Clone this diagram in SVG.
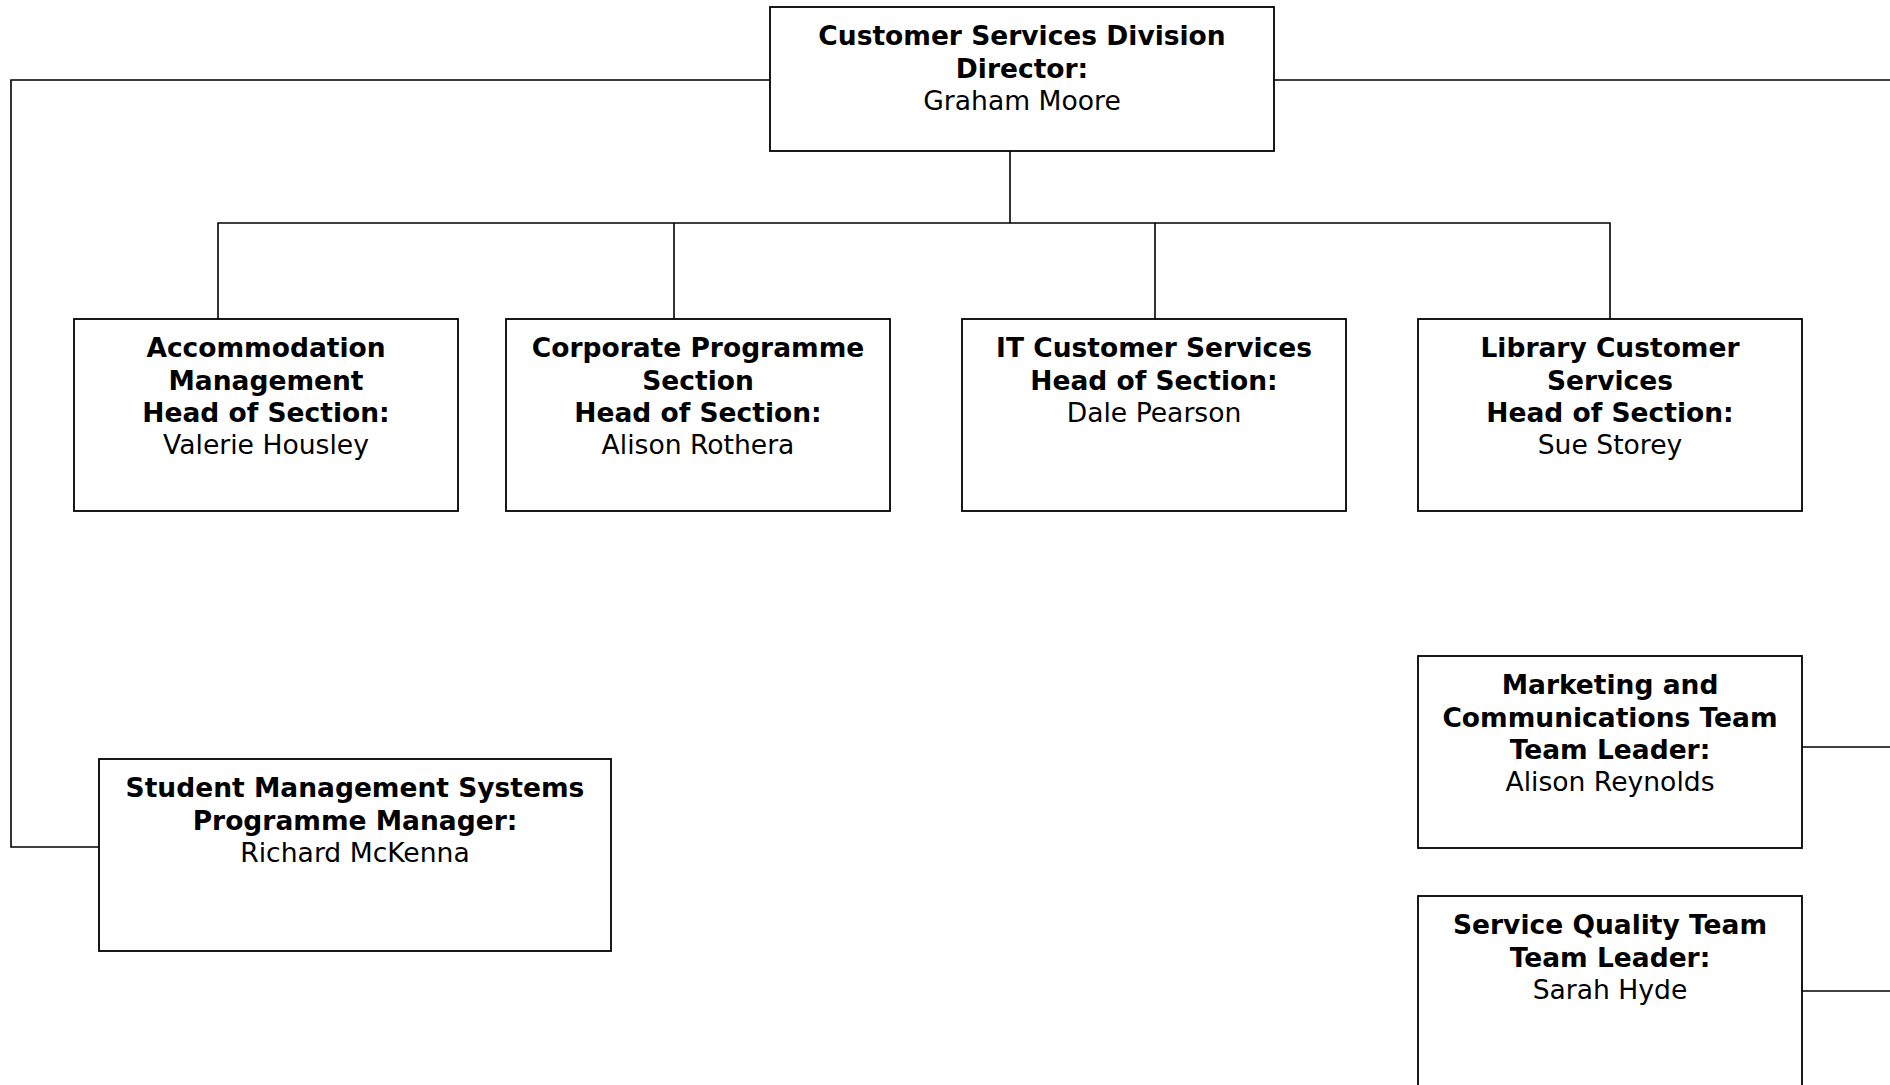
<svg xmlns="http://www.w3.org/2000/svg" width="1890" height="1085" viewBox="0 0 1890 1085">
<style>
.box{fill:#fff;stroke:#000;stroke-width:1.8}
.ln{fill:none;stroke:#000;stroke-width:1.6}
text{font-family:"DejaVu Sans",Verdana,sans-serif;font-size:26.6px;text-anchor:middle;fill:#000}
.b{font-weight:bold;font-size:26.5px}
</style>
<rect width="1890" height="1085" fill="#fff"/>
<g id="connectors">
<path class="ln" d="M770,80 H11 V847 H99"/>
<path class="ln" d="M1274,80 H1890"/>
<path class="ln" d="M1010,151 V223"/>
<path class="ln" d="M218,319 V223 H1610 V319"/>
<path class="ln" d="M674,223 V319"/>
<path class="ln" d="M1155,223 V319"/>
<path class="ln" d="M1802,747 H1890"/>
<path class="ln" d="M1802,991 H1890"/>
</g>
<g id="director">
<rect class="box" x="770" y="7" width="504" height="144"/>
<text class="b" x="1022" y="45">Customer Services Division</text>
<text class="b" x="1022" y="77.5">Director:</text>
<text x="1022" y="109.5">Graham Moore</text>
</g>
<g id="accommodation">
<rect class="box" x="74" y="319" width="384" height="192"/>
<text class="b" x="266" y="357">Accommodation</text>
<text class="b" x="266" y="389.5">Management</text>
<text class="b" x="266" y="422">Head of Section:</text>
<text x="266" y="454">Valerie Housley</text>
</g>
<g id="corporate">
<rect class="box" x="506" y="319" width="384" height="192"/>
<text class="b" x="698" y="357">Corporate Programme</text>
<text class="b" x="698" y="389.5">Section</text>
<text class="b" x="698" y="422">Head of Section:</text>
<text x="698" y="454">Alison Rothera</text>
</g>
<g id="it">
<rect class="box" x="962" y="319" width="384" height="192"/>
<text class="b" x="1154" y="357">IT Customer Services</text>
<text class="b" x="1154" y="389.5">Head of Section:</text>
<text x="1154" y="421.5">Dale Pearson</text>
</g>
<g id="library">
<rect class="box" x="1418" y="319" width="384" height="192"/>
<text class="b" x="1610" y="357">Library Customer</text>
<text class="b" x="1610" y="389.5">Services</text>
<text class="b" x="1610" y="422">Head of Section:</text>
<text x="1610" y="454">Sue Storey</text>
</g>
<g id="marketing">
<rect class="box" x="1418" y="656" width="384" height="192"/>
<text class="b" x="1610" y="694">Marketing and</text>
<text class="b" x="1610" y="726.5">Communications Team</text>
<text class="b" x="1610" y="759">Team Leader:</text>
<text x="1610" y="791">Alison Reynolds</text>
</g>
<g id="quality">
<rect class="box" x="1418" y="896" width="384" height="200"/>
<text class="b" x="1610" y="934">Service Quality Team</text>
<text class="b" x="1610" y="966.5">Team Leader:</text>
<text x="1610" y="998.5">Sarah Hyde</text>
</g>
<g id="student">
<rect class="box" x="99" y="759" width="512" height="192"/>
<text class="b" x="355" y="797">Student Management Systems</text>
<text class="b" x="355" y="829.5">Programme Manager:</text>
<text x="355" y="861.5">Richard McKenna</text>
</g>
</svg>
